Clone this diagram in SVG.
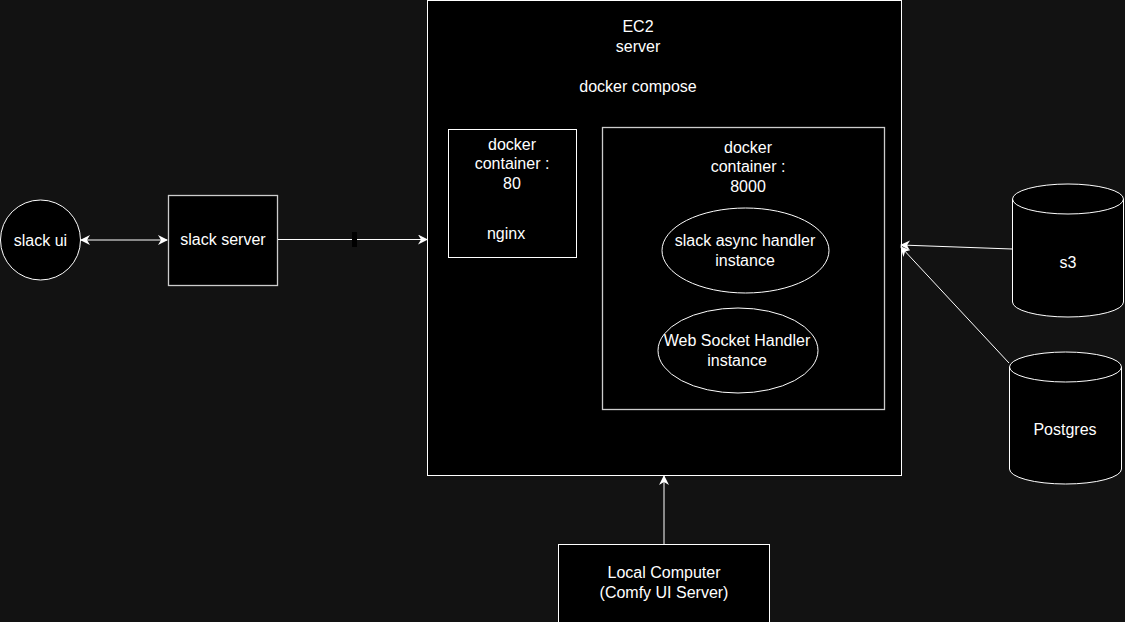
<svg xmlns="http://www.w3.org/2000/svg" width="1125" height="622" viewBox="0 0 1125 622">
<defs>
<marker id="ah" viewBox="0 0 10 10" refX="9" refY="5" markerWidth="10" markerHeight="10" markerUnits="userSpaceOnUse" orient="auto-start-reverse">
<path d="M0,0 L10,5 L0,10 L3,5 Z" fill="#ffffff"/>
</marker>
<style>
text{font-family:"Liberation Sans",Arial,sans-serif;font-size:16px;fill:#ffffff;text-anchor:middle}
.box{fill:#000000;stroke:#ffffff;stroke-width:1}
.box2{fill:#000000;stroke:#cccccc;stroke-width:1.3}
.edge{stroke:#ffffff;stroke-width:1;fill:none}
</style>
</defs>
<rect width="1125" height="622" fill="#121212"/>
<g id="ec2">
<rect class="box" x="427.5" y="0.5" width="474" height="475"/>
<text x="638" y="32">EC2</text>
<text x="638" y="52">server</text>
<text x="638" y="92">docker compose</text>
</g>
<g id="nginx-container">
<rect class="box" x="448.5" y="129.5" width="128" height="128"/>
<text x="512" y="150">docker</text>
<text x="512" y="169">container :</text>
<text x="512" y="189">80</text>
<text x="506" y="239">nginx</text>
</g>
<g id="app-container">
<rect class="box2" x="602.5" y="127.5" width="282" height="282"/>
<text x="748" y="153">docker</text>
<text x="748" y="172">container :</text>
<text x="748" y="192">8000</text>
</g>
<g id="slack-async">
<ellipse class="box" cx="745.5" cy="250.5" rx="83.5" ry="42.5"/>
<text x="745" y="246">slack async handler</text>
<text x="745" y="266">instance</text>
</g>
<g id="websocket">
<ellipse class="box" cx="738" cy="350.5" rx="80" ry="42.5"/>
<text x="737" y="346">Web Socket Handler</text>
<text x="737" y="366">instance</text>
</g>
<g id="slack-ui">
<circle class="box" cx="40.5" cy="240" r="40"/>
<text x="40.5" y="245.5">slack ui</text>
</g>
<g id="slack-server">
<rect class="box2" x="168.5" y="195.5" width="109" height="90"/>
<text x="223" y="245">slack server</text>
</g>
<g id="s3">
<path class="box" d="M1012.5,199 A55.5,15 0 0 1 1123.5,199 L1123.5,302 A55.5,15 0 0 1 1012.5,302 Z"/>
<path class="edge" d="M1012.5,199 A55.5,15 0 0 0 1123.5,199"/>
<text x="1068" y="268">s3</text>
</g>
<g id="postgres">
<path class="box" d="M1009.5,367 A56,15 0 0 1 1121.5,367 L1121.5,469 A56,15 0 0 1 1009.5,469 Z"/>
<path class="edge" d="M1009.5,367 A56,15 0 0 0 1121.5,367"/>
<text x="1065" y="435">Postgres</text>
</g>
<g id="local-computer">
<rect class="box" x="558.5" y="544.5" width="211" height="85"/>
<text x="664" y="578">Local Computer</text>
<text x="664" y="598">(Comfy UI Server)</text>
</g>
<g id="connectors">
<line class="edge" x1="81" y1="240" x2="167" y2="240" marker-start="url(#ah)" marker-end="url(#ah)"/>
<line class="edge" x1="278" y1="239.5" x2="427" y2="239.5" marker-end="url(#ah)"/>
<rect x="352" y="232" width="5" height="15" fill="#000000"/>
<line class="edge" x1="1012" y1="249" x2="901" y2="245" marker-end="url(#ah)"/>
<line class="edge" x1="1009" y1="363" x2="901" y2="247" marker-end="url(#ah)"/>
<line class="edge" x1="664" y1="544" x2="664" y2="476" marker-end="url(#ah)"/>
</g>
</svg>
